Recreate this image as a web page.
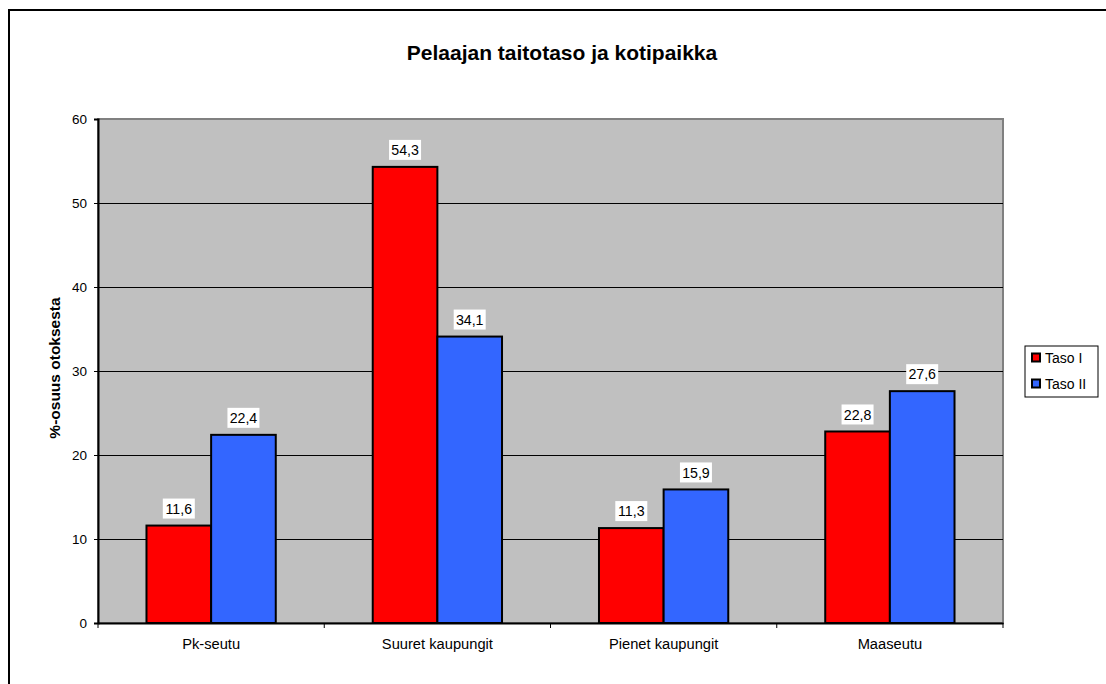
<!DOCTYPE html>
<html>
<head>
<meta charset="utf-8">
<script src="https://cdn.jsdelivr.net/npm/d3@7"></script>
<style>
  body { margin: 0; background: #fff; }
  svg { display: block; font-family: 'Liberation Sans', Arial, sans-serif; }
</style>
</head>
<body>
<div id="chart"></div>
<script>
const categories = ['Pk-seutu', 'Suuret kaupungit', 'Pienet kaupungit', 'Maaseutu']
const series = ['Taso I', 'Taso II']
const tasoI = [11.6, 54.3, 11.3, 22.8]
const tasoII = [22.4, 34.1, 15.9, 27.6]
const yTicks = [0, 10, 20, 30, 40, 50, 60]

const colors = { 'Taso I': '#ff0000', 'Taso II': '#3366ff' }

const W = 1106
const H = 684
const plot = { left: 98, top: 119, right: 1003, bottom: 623 }

const svg = d3
  .select('#chart')
  .append('svg')
  .attr('width', W)
  .attr('height', H)

// outer chart frame (runs off the page right and bottom)
svg
  .append('rect')
  .attr('x', 9)
  .attr('y', 10)
  .attr('width', 1120)
  .attr('height', 700)
  .attr('fill', '#fff')
  .attr('stroke', '#000')
  .attr('stroke-width', 2)

const yScale = d3
  .scaleLinear()
  .domain([0, 60])
  .range([plot.bottom, plot.top])

const x0 = d3
  .scaleBand()
  .domain(categories)
  .range([plot.left, plot.right])

const groupWidth = (x0.bandwidth() * 2) / 3.5
const x1 = d3
  .scaleBand()
  .domain(series)
  .range([0, groupWidth])

// plot area background
svg
  .append('rect')
  .attr('x', plot.left)
  .attr('y', plot.top)
  .attr('width', plot.right - plot.left)
  .attr('height', plot.bottom - plot.top)
  .attr('fill', '#c0c0c0')
  .attr('stroke', '#808080')
  .attr('stroke-width', 2)

// gridlines
svg
  .append('g')
  .selectAll('line')
  .data(yTicks.filter(d => d > 0 && d < 60))
  .enter()
  .append('line')
  .attr('x1', plot.left)
  .attr('x2', plot.right)
  .attr('y1', d => Math.round(yScale(d)) + 0.5)
  .attr('y2', d => Math.round(yScale(d)) + 0.5)
  .attr('stroke', '#000')
  .attr('stroke-width', 1)

const rows = categories.map((c, i) => ({
  cat: c,
  values: [
    { key: 'Taso I', value: tasoI[i] },
    { key: 'Taso II', value: tasoII[i] }
  ]
}))

const groups = svg
  .append('g')
  .selectAll('g')
  .data(rows)
  .enter()
  .append('g')
  .attr('transform', d => `translate(${x0(d.cat) + (x0.bandwidth() - groupWidth) / 2},0)`)

groups
  .selectAll('rect')
  .data(d => d.values)
  .enter()
  .append('rect')
  .attr('x', d => x1(d.key))
  .attr('y', d => yScale(d.value))
  .attr('width', x1.bandwidth())
  .attr('height', d => yScale(0) - yScale(d.value))
  .attr('fill', d => colors[d.key])
  .attr('stroke', '#000')
  .attr('stroke-width', 2)

// value labels with white boxes
const labels = groups
  .selectAll('.lab')
  .data(d => d.values)
  .enter()
  .append('g')
  .attr('class', 'lab')
  .attr('transform', d => `translate(${x1(d.key) + x1.bandwidth() / 2},${yScale(d.value) - 17})`)

labels
  .append('rect')
  .attr('x', -16)
  .attr('y', -10)
  .attr('width', 32)
  .attr('height', 20)
  .attr('fill', '#fff')

labels
  .append('text')
  .attr('text-anchor', 'middle')
  .attr('dy', '0.36em')
  .attr('font-size', 14.2)
  .attr('fill', '#000')
  .text(d => String(d.value).replace('.', ','))

// y axis
const yAxis = d3
  .axisLeft(yScale)
  .tickValues(yTicks)
  .tickSize(4)
  .tickPadding(7)
  .tickFormat(d3.format('d'))

svg
  .append('g')
  .attr('transform', `translate(${plot.left},0)`)
  .call(yAxis)
  .call(g => g.select('.domain').attr('stroke', '#000').attr('stroke-width', 2))
  .call(g => g.selectAll('.tick text').attr('font-size', 13.5).attr('fill', '#000').style('font-family', 'Liberation Sans, Arial, sans-serif'))

// x axis
const xAxis = d3
  .axisBottom(x0)
  .tickSize(0)
  .tickPadding(16)

svg
  .append('g')
  .attr('transform', `translate(0,${plot.bottom})`)
  .call(xAxis)
  .call(g => g.select('.domain').attr('stroke', '#000').attr('stroke-width', 2))
  .call(g => g.selectAll('.tick text').attr('font-size', 14.7).attr('fill', '#000').style('font-family', 'Liberation Sans, Arial, sans-serif'))

// category tick marks at boundaries
svg
  .append('g')
  .selectAll('line')
  .data(d3.range(categories.length + 1))
  .enter()
  .append('line')
  .attr('x1', i => plot.left + i * x0.bandwidth())
  .attr('x2', i => plot.left + i * x0.bandwidth())
  .attr('y1', plot.bottom)
  .attr('y2', plot.bottom + 5)
  .attr('stroke', '#000')

// title
svg
  .append('text')
  .attr('x', 562)
  .attr('y', 60)
  .attr('text-anchor', 'middle')
  .attr('font-size', 21)
  .attr('font-weight', 'bold')
  .text('Pelaajan taitotaso ja kotipaikka')

// y axis title
svg
  .append('text')
  .attr('transform', `translate(60,368) rotate(-90)`)
  .attr('text-anchor', 'middle')
  .attr('font-size', 15.5)
  .attr('font-weight', 'bold')
  .text('%-osuus otoksesta')

// legend
const legend = svg.append('g').attr('transform', 'translate(1025,346)')

legend
  .append('rect')
  .attr('width', 73)
  .attr('height', 51)
  .attr('fill', '#fff')
  .attr('stroke', '#000')
  .attr('stroke-width', 1)

const items = legend
  .selectAll('.item')
  .data(series)
  .enter()
  .append('g')
  .attr('class', 'item')
  .attr('transform', (d, i) => `translate(7,${12 + i * 26})`)

items
  .append('rect')
  .attr('x', 0)
  .attr('y', -4.5)
  .attr('width', 8)
  .attr('height', 8)
  .attr('fill', d => colors[d])
  .attr('stroke', '#000')
  .attr('stroke-width', 2)

items
  .append('text')
  .attr('x', 13)
  .attr('dy', '0.36em')
  .attr('font-size', 14)
  .text(d => d)
</script>
</body>
</html>
